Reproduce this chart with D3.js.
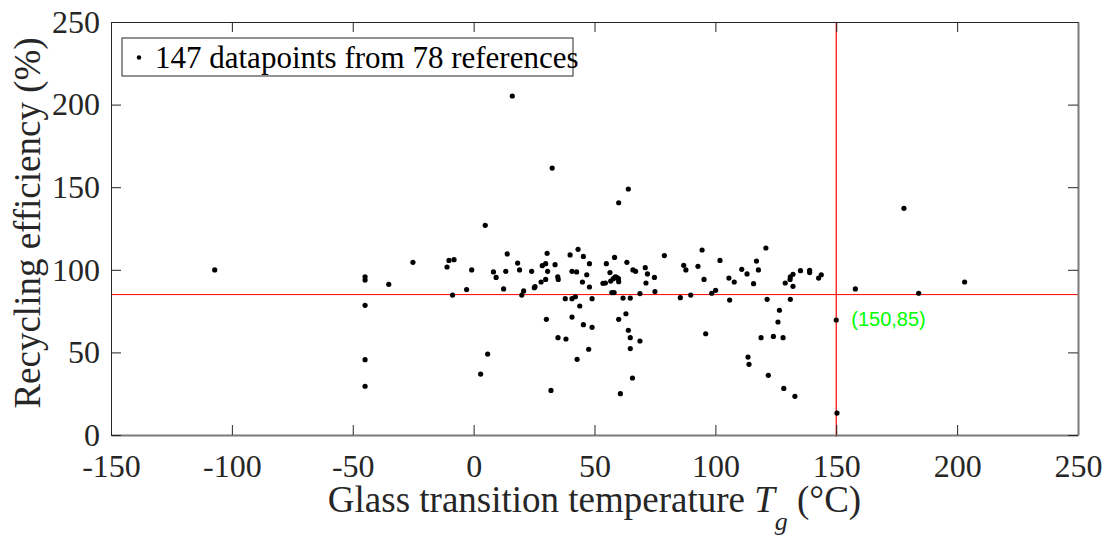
<!DOCTYPE html>
<html>
<head>
<meta charset="utf-8">
<script src="https://cdn.jsdelivr.net/npm/d3@7"></script>
<style>
  body { margin: 0; background: #fff; }
  svg { display: block; font-family: "Liberation Serif", "Times New Roman", serif; }
</style>
</head>
<body>
<svg id="drawing_region"></svg>
<script>
// glass transition temperature (°C) of each datapoint
const tgValues = [
  -107.1, -44.9, -44.9, -35.1, -25.1, -44.9, -44.9, -44.9,
  4.8, -11.0, -10.2, -8.1, -8.7, -0.8, -2.9, 5.8, 2.9, 13.9,
  8.2, 9.3, 12.4, 13.3, 18.2, 19.0, 19.9, 20.7, 24.0, 25.1,
  25.4, 27.9, 28.4, 29.8, 30.4, 30.6, 29.8, 30.1, 32.0, 33.7,
  34.8, 35.0, 34.9, 38.2, 37.9, 39.9, 40.7, 40.7, 40.7, 42.1,
  42.6, 43.2, 43.9, 42.8, 45.4, 45.0, 46.8, 47.9, 47.9, 49.0,
  45.4, 49.0, 47.6, 53.5, 54.5, 54.9, 56.4, 56.7, 57.8, 58.6,
  58.3, 59.9, 60.0, 57.2, 58.1, 61.8, 60.0, 60.7, 63.4, 63.0,
  64.0, 64.8, 64.8, 64.8, 65.7, 65.9, 67.0, 68.8, 68.8, 71.0,
  71.9, 71.3, 74.8, 75.0, 78.9, 85.5, 86.9, 87.8, 89.8, 92.8,
  94.5, 95.3, 96.0, 98.5, 100.1, 101.9, 105.6, 105.9, 107.8, 110.9,
  113.1, 113.5, 113.9, 59.2,
  120.9, 117.0, 117.8, 115.8, 121.4, 126.5, 125.9, 118.9, 124.0, 128.0,
  121.9, 128.3, 132.9, 128.9, 131.0, 130.9, 132.1, 132.1, 131.0, 135.2,
  139.0, 139.0, 142.7, 143.8, 150.0, 150.3, 157.9, 184.1, 203.1,
  178.0, 32.5, 64.0, 60.0, 16.0
];

// recycling efficiency (%) of each datapoint
const effValues = [
  99.9, 95.8, 93.8, 91.2, 104.5, 78.5, 45.6, 29.5,
  126.9, 101.7, 105.7, 106.1, 84.7, 99.9, 88.0, 49.0, 36.9, 109.6,
  98.7, 95.4, 88.4, 99.1, 104.1, 99.9, 84.7, 87.2, 99.1, 89.2,
  89.8, 92.6, 102.5, 103.7, 110.0, 99.1, 94.2, 70.0, 27.0, 103.1,
  95.8, 94.2, 58.9, 58.1, 82.5, 109.0, 99.1, 82.5, 71.4, 83.7,
  98.7, 112.4, 78.1, 45.8, 108.1, 92.6, 97.0, 103.7, 89.6, 82.5,
  66.8, 65.2, 51.9, 91.8, 92.0, 103.7, 98.3, 93.2, 94.6, 95.8,
  107.5, 94.6, 92.8, 86.2, 86.2, 82.9, 70.0, 25.0, 104.5, 73.4,
  63.4, 82.9, 58.9, 52.3, 34.5, 99.9, 99.1, 85.6, 56.9, 101.3,
  97.5, 92.0, 95.4, 86.8, 108.6, 83.1, 102.7, 99.9, 84.7, 102.1,
  112.0, 94.2, 61.3, 85.8, 87.6, 105.7, 95.0, 81.7, 92.6, 100.3,
  97.5, 47.2, 42.8, 95.4,
  113.2, 105.3, 99.9, 91.6, 82.1, 75.5, 68.4, 58.9, 59.7, 58.9,
  36.1, 28.2, 23.4, 92.0, 95.8, 94.2, 97.3, 90.0, 82.1, 99.5,
  99.7, 98.3, 95.0, 97.0, 69.6, 13.3, 88.4, 85.8, 92.6,
  137.2, 161.6, 148.9, 140.6, 205.2
];

const xTicks = [-150, -100, -50, 0, 50, 100, 150, 200, 250];
const yTicks = [0, 50, 100, 150, 200, 250];
const refTg = 150;
const refEff = 85;
const legendText = "147 datapoints from 78 references";
const refLabel = "(150,85)";

const points = tgValues.map((t, i) => ({ x: t, y: effValues[i] }));

const margin = { top: 22, right: 28, bottom: 103, left: 111 };
const width = 1106 - margin.left - margin.right;
const height = 538 - margin.top - margin.bottom;
const axisColor = "#262626";
const serif = "'Liberation Serif', 'Times New Roman', serif";

const svg = d3.select("#drawing_region")
    .attr("width", 1106)
    .attr("height", 538);

const g = svg.append("g")
    .attr("transform", "translate(" + margin.left + "," + margin.top + ")");

const xScale = d3.scaleLinear().domain([-150, 250]).range([0, width]);
const yScale = d3.scaleLinear().domain([0, 250]).range([height, 0]);

// red reference lines
g.append("line")
    .attr("x1", 0).attr("x2", width)
    .attr("y1", yScale(refEff)).attr("y2", yScale(refEff))
    .attr("stroke", "#ff0000").attr("stroke-width", 1);

g.append("line")
    .attr("x1", xScale(refTg)).attr("x2", xScale(refTg))
    .attr("y1", 0).attr("y2", height + 2)
    .attr("stroke", "#ff0000").attr("stroke-width", 1.2);

// datapoints
g.selectAll(".dot")
    .data(points)
    .join("circle")
    .attr("class", "dot")
    .attr("cx", d => xScale(d.x))
    .attr("cy", d => yScale(d.y))
    .attr("r", 2.6)
    .attr("fill", "#000");

// axes, ticks point inwards like matlab; plain hyphen for negatives
const fmt = d => String(d);

const xAxis = g.append("g")
    .attr("transform", "translate(0," + height + ")")
    .call(d3.axisBottom(xScale).tickValues(xTicks).tickFormat(fmt).tickSizeInner(-10).tickSizeOuter(0).tickPadding(19));

const yAxis = g.append("g")
    .call(d3.axisLeft(yScale).tickValues(yTicks).tickFormat(fmt).tickSizeInner(-10).tickSizeOuter(0).tickPadding(11));

const topAxis = g.append("g")
    .call(d3.axisTop(xScale).tickValues(xTicks).tickSizeInner(-10).tickSizeOuter(0).tickFormat(""));

const rightAxis = g.append("g")
    .attr("transform", "translate(" + width + ",0)")
    .call(d3.axisRight(yScale).tickValues(yTicks).tickSizeInner(-10).tickSizeOuter(0).tickFormat(""));

[xAxis, yAxis, topAxis, rightAxis].forEach(a => {
    a.attr("font-family", serif).attr("font-size", 32);
    a.selectAll("line").attr("stroke", axisColor);
    a.select(".domain").attr("stroke", axisColor);
    a.selectAll("text").attr("fill", axisColor);
});
xAxis.select(".domain").attr("stroke", "#7a7a7a").attr("stroke-width", 2);
rightAxis.select(".domain").attr("stroke", "#7a7a7a").attr("stroke-width", 2);

// axis labels
const xLabel = g.append("text")
    .attr("x", width / 2)
    .attr("y", height + 77)
    .attr("text-anchor", "middle")
    .attr("fill", axisColor)
    .attr("font-family", serif)
    .attr("font-size", 37);
xLabel.append("tspan").text("Glass transition temperature ");
xLabel.append("tspan").attr("font-style", "italic").text("T");
xLabel.append("tspan").attr("font-style", "italic").attr("font-size", 26).attr("dy", 18).text("g");
xLabel.append("tspan").attr("dy", -18).text(" (°C)");

g.append("text")
    .attr("transform", "translate(" + (40 - margin.left) + "," + (223 - margin.top) + ") rotate(-90)")
    .attr("text-anchor", "middle")
    .attr("fill", axisColor)
    .attr("font-family", serif)
    .attr("font-size", 37)
    .text("Recycling efficiency (%)");

// green annotation of the reference point
g.append("text")
    .attr("x", xScale(refTg) + 15)
    .attr("y", yScale(refEff) + 31)
    .attr("fill", "#00ff00")
    .attr("font-family", "'Liberation Sans', Arial, sans-serif")
    .attr("font-size", 20)
    .text(refLabel);

// legend
const legend = g.append("g").attr("transform", "translate(11,16)");
legend.append("rect")
    .attr("width", 451).attr("height", 38)
    .attr("fill", "#fff")
    .attr("stroke", axisColor).attr("stroke-width", 1);
legend.append("circle")
    .attr("cx", 17).attr("cy", 19.5).attr("r", 2.2).attr("fill", "#000");
legend.append("text")
    .attr("x", 33).attr("y", 30)
    .attr("fill", "#000")
    .attr("font-family", serif)
    .attr("font-size", 31)
    .text(legendText);
</script>
</body>
</html>
